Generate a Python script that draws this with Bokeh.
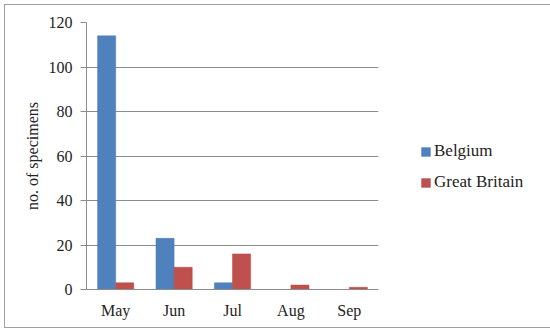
from bokeh.plotting import figure
from bokeh.layouts import column
from bokeh.models import FactorRange, Range1d, FixedTicker, Legend, LegendItem
from bokeh.transform import dodge
from bokeh.embed import file_html
from bokeh.resources import INLINE

months = ["May", "Jun", "Jul", "Aug", "Sep"]
belgium = [114, 23, 3, 0, 0]
great_britain = [3, 10, 16, 2, 1]
y_ticks = [0, 20, 40, 60, 80, 100, 120]

FONT = "Liberation Serif"

p = figure(frame_width=292, frame_height=267, x_range=FactorRange(*months), y_range=Range1d(0, 120),
           output_backend="svg", toolbar_location=None,
           min_border_left=81, min_border_right=164, min_border_top=17, min_border_bottom=38)
p.outline_line_color = None
p.background_fill_color = "white"
p.border_fill_color = "white"

data = dict(m=months, b=belgium, g=great_britain)
rb = p.vbar(x=dodge("m", -0.155, range=p.x_range), top="b", width=0.31, source=data,
            fill_color="#4F81BD", line_color="#4A7AB3", line_width=0.5)
rg = p.vbar(x=dodge("m", 0.155, range=p.x_range), top="g", width=0.31, source=data,
            fill_color="#C0504D", line_color="#B44A47", line_width=0.5)

p.xgrid.grid_line_color = None
p.ygrid.grid_line_color = "#8C8C8C"
p.ygrid.ticker = FixedTicker(ticks=y_ticks)
p.yaxis.ticker = FixedTicker(ticks=y_ticks)

p.yaxis.axis_line_color = "#8C8C8C"
p.yaxis.major_tick_line_color = "#8C8C8C"
p.yaxis.major_tick_out = 6
p.yaxis.major_tick_in = 0
p.yaxis.minor_tick_line_color = None
p.yaxis.major_label_standoff = 8
p.yaxis.axis_label = "no. of specimens"
p.yaxis.axis_label_text_font = FONT
p.yaxis.axis_label_text_font_style = "normal"
p.yaxis.axis_label_text_font_size = "16px"
p.yaxis.axis_label_text_color = "#222222"
p.yaxis.axis_label_standoff = 5

p.xaxis.axis_line_color = "#8C8C8C"
p.xaxis.major_tick_line_color = None
p.xaxis.major_tick_out = 0
p.xaxis.major_label_standoff = 12

for ax in (p.xaxis[0], p.yaxis[0]):
    ax.major_label_text_font = FONT
    ax.major_label_text_font_size = "16px"
    ax.major_label_text_color = "#222222"

legend = Legend(items=[LegendItem(label="Belgium", renderers=[rb]),
                       LegendItem(label="Great Britain", renderers=[rg])],
                location=(42, 97), padding=0, margin=0, spacing=11,
                glyph_width=11, glyph_height=11, label_standoff=3,
                border_line_color=None, background_fill_alpha=0)
legend.label_text_font = FONT
legend.label_text_font_size = "17px"
legend.label_text_color = "#222222"
p.add_layout(legend, "right")

layout = column(p, margin=(4, 4, 4, 4), styles={"border": "1px solid #A0A0A0"})

open("out.html", "w").write(file_html(layout, INLINE))
